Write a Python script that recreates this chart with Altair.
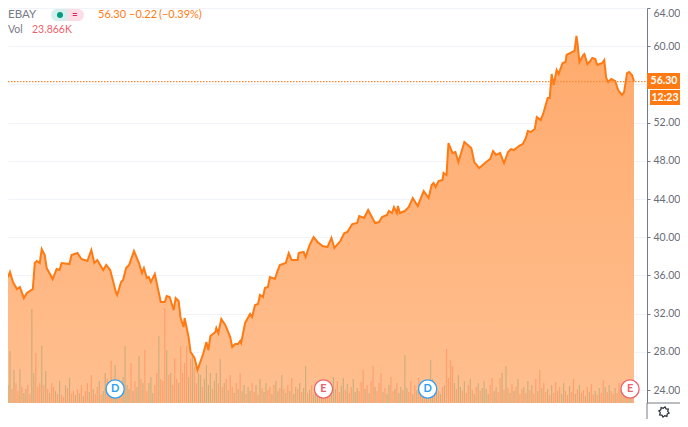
import math
import altair as alt
import pandas as pd

bars = [3,5,8,12,15,19,22,28,30,32,35,37,40,42,48,52,55,57,65,67,73,77,83,87,90,93,99,102,106,112,113,117,119,122,125,130,135,138,140,143,145,147,151,154,157,161,163,166,170,172,175,177,180,181,185,187,191,194,200,203,205,207,212,213,215,218,222,227,229,232,235,237,238,242,247,249,252,255,257,260,262,265,267,272,275,277,283,286,289,295,296,301,303,307,311,315,320,325,329,332,338,342,345,350,355,357,362,366,373,377,380,385,387,390,392,395,396,398,403,407,411,416,422,427,430,432,434,437,441,442,445,447,451,454,457,460,463,470,473,478,485,489,492,495,499,503,507,510,513,518,522,525,527,530,534,536,540,543,547,549,551,553,556,558,562,565,566,570,574,576,577,579,583,584,587,590,592,595,597,602,604,606,608,611,615,618,622,624,627,629,632,634]
prices = [35.83,36.36,35.31,34.57,34.78,33.63,34.16,34.57,37.30,37.51,37.30,38.76,38.13,36.77,35.62,36.67,36.56,37.30,37.19,38.13,38.34,37.72,37.51,38.66,37.30,37.61,36.56,37.09,36.56,34.16,33.95,35.31,35.52,36.77,37.09,38.55,37.30,36.25,36.77,35.73,35.83,35.31,36.15,34.68,33.21,33.21,33.84,33.74,32.38,33.63,33.32,31.54,30.60,31.54,29.55,27.98,27.35,26.09,27.87,29.03,28.19,29.65,30.07,30.49,29.97,31.43,30.81,29.55,28.50,28.82,28.82,29.13,28.92,31.02,31.96,31.64,32.90,33.00,33.95,33.74,34.68,34.78,35.83,35.62,36.56,37.09,37.30,38.34,37.61,37.61,38.34,38.45,37.93,39.18,40.02,39.50,39.08,38.97,39.92,38.87,39.60,40.44,40.54,41.38,41.49,42.22,42.01,42.85,41.49,41.59,42.12,42.32,42.74,42.53,43.16,42.53,43.27,42.53,42.74,43.16,44.10,43.27,44.84,44.10,45.46,45.67,45.26,45.88,45.99,46.72,46.51,49.86,48.82,48.92,47.87,48.92,49.97,49.34,47.87,47.24,47.87,48.19,49.02,48.61,48.82,47.77,48.92,49.23,49.13,49.55,49.76,50.39,51.12,51.02,51.33,52.59,52.27,53.11,54.57,54.57,57.09,55.93,57.50,57.09,58.24,58.34,59.08,59.29,59.50,61.07,60.34,58.34,59.08,59.18,58.13,58.45,58.76,58.66,58.03,58.24,58.55,56.67,56.25,56.56,56.35,55.41,54.89,55.20,57.19,57.30,56.98,56.30]

volumes = [
 18,52,14,33,20,12,34,16,10,14,18,9,94,30,50,16,20,57,18,32,
 14,10,20,16,12,9,22,8,6,18,15,25,9,12,8,14,10,18,7,12,
 20,11,28,14,9,16,22,8,12,30,24,18,42,20,38,12,16,10,26,57,
 18,14,40,12,22,16,47,24,20,53,12,20,26,10,18,30,67,24,22,95,
 53,28,30,18,45,24,20,57,30,40,57,26,44,50,36,20,30,28,16,24,
 38,18,30,14,22,30,20,44,16,20,24,13,28,16,10,20,14,30,12,18,
 9,16,12,20,11,18,8,24,15,11,20,13,16,9,18,22,12,15,28,14,
 10,18,12,25,9,16,14,20,11,15,37,10,13,18,9,16,20,11,12,8,
 12,20,16,9,26,14,22,11,17,25,13,19,10,16,24,11,15,12,21,33,
 14,18,10,22,37,16,12,20,30,11,15,9,18,26,12,14,20,10,16,13,
 48,15,11,22,9,18,13,25,16,10,12,20,11,43,24,14,10,12,9,16,
 18,54,25,43,37,20,14,28,16,12,22,10,18,24,13,9,16,20,12,15,
 22,14,9,18,25,12,16,11,25,30,13,37,15,10,19,12,16,24,9,14,
 16,10,22,13,18,9,24,12,33,15,20,11,14,8,18,10,21,12,16,9,
 20,12,8,17,11,24,9,14,18,10,13,7,16,11,19,9,12,8,15,10,
 23,16,11,18,12,9,15,10,20,13,7,12,9,11,8,10]
vol_dirs = (
 "ggrgrrgrggrrggrrrgrg" "rgrrgrgrrgrgrrgrgrgr" "rgrgrrgrggrrrgggrrgg" "ggrgrggrgrrgggrrgrrr"
 "grgrrrgrrrrgrgrrggrg" "gggrggrgrgrgrrgrgrgg" "rggrrgrgrggrrgrggrgr" "grgrggrgrggrgrgggrgr"
 "grrgggrrggrgrrgggrrr" "grgrrgrrrgrggrrgrggr" "ggrrgrgrrgrgrggrgrgr" "grrrrgrggrgrrgrgrgrg"
 "gggrrggrrgrgrgrgrgrr" "grgrgrrgrgrrgrgrrgrg" "grrgrrgrgrrgrgrrgrgr" "rgrgrrgrrgrgrggr")
vol_bars = list(range(3, 3 + 2 * len(volumes), 2))

tick_bars = [21, 116, 226, 330, 430, 540]
tick_names = ["Feb", "Mar", "Apr", "May", "Jun", "Jul"]
price_ticks = [24, 28, 32, 36, 40, 44, 48, 52, 56, 60, 64]
events = [(111, "D"), (321, "E"), (426, "D"), (630, "E")]

FONT = "Lato"
GREY = "#787b86"
ORANGE = "#ff7a12"
W, H = 639, 395
x_dom = [3, 647.1]
y_dom = [22.64, 64]

px = alt.Scale(domain=x_dom, nice=False, zero=False, padding=0)
py = alt.Scale(domain=y_dom, nice=False, zero=False)
base = pd.DataFrame({"bar": bars, "price": prices, "floor": [y_dom[0]] * len(bars)})
vol = pd.DataFrame({"bar": vol_bars, "volume": volumes, "dir": list(vol_dirs)})

x_axis = alt.Axis(values=tick_bars, title=None, grid=False, domain=False,
                  tickColor=GREY, tickSize=3, labelColor="#6a6d78", labelFont=FONT,
                  labelFontSize=12, labelPadding=5,
                  labelExpr="['Feb','Mar','Apr','May','Jun','Jul'][indexof([21,116,226,330,430,540], datum.value)]")
y_axis = alt.Axis(values=price_ticks, orient="right", title=None, grid=True,
                  gridColor="#f0f3fa", gridWidth=1, domainColor=GREY, tickColor=GREY, tickSize=3,
                  labelColor="#6a6d78", labelFont=FONT, labelFontSize=10.5, labelPadding=3, labelFlush=True,
                  labelExpr="datum.value == 56 ? '' : format(datum.value, '.2f')")

area = alt.Chart(base).mark_area(
    color=alt.Gradient(gradient="linear", x1=0, x2=0, y1=0, y2=1,
                       stops=[alt.GradientStop(color="#ffaa6c", offset=0),
                              alt.GradientStop(color="#ffbf90", offset=1)])
).encode(
    x=alt.X("bar:Q", scale=px, axis=x_axis),
    y=alt.Y("price:Q", scale=py, axis=y_axis),
    y2="floor:Q",
)
volume = alt.Chart(vol).mark_bar(size=1.2, opacity=0.85).encode(
    x=alt.X("bar:Q", scale=px, axis=None),
    y=alt.Y("volume:Q", scale=alt.Scale(domain=[0, H], nice=False), axis=None),
    color=alt.Color("dir:N", legend=None,
                    scale=alt.Scale(domain=["g", "r"], range=["#c4ab78", "#ff9a68"])),
)
line = alt.Chart(base).mark_line(color=ORANGE, strokeWidth=2).encode(
    x=alt.X("bar:Q", scale=px, axis=None),
    y=alt.Y("price:Q", scale=py, axis=None),
)
last = alt.Chart(pd.DataFrame({"p": [prices[-1]]})).mark_rule(
    stroke="#ff8a33", strokeDash=[1.5, 1.5], strokeWidth=1.2, opacity=1
).encode(y=alt.Y("p:Q", scale=py, axis=None), x=alt.value(0), x2=alt.value(W),
         color=alt.value("#ff8a33"))


def one():
    return alt.Chart(pd.DataFrame({"a": [0]}))


def rule(x1, y1, x2, y2, color, w=1):
    return one().mark_rule(color=color, strokeWidth=w).encode(
        x=alt.value(x1), y=alt.value(y1), x2=alt.value(x2), y2=alt.value(y2))


def rect(x1, y1, x2, y2, color, **kw):
    return one().mark_rect(color=color, **kw).encode(
        x=alt.value(x1), y=alt.value(y1), x2=alt.value(x2), y2=alt.value(y2))


def text(s, x, y, color, size=11, align="left", weight="normal"):
    return one().mark_text(text=s, color=color, fontSize=size, font=FONT, align=align,
                           baseline="middle", fontWeight=weight).encode(
        x=alt.value(x), y=alt.value(y))


overlay = [
    rule(W, H, 672, H, GREY),
    rule(W, H, W, 411, GREY),
    text("EBAY", 0, 7, GREY, 11.5),
    rect(43, 1, 59, 13, "#d5f0ec", cornerRadiusTopLeft=6, cornerRadiusBottomLeft=6),
    rect(59, 1, 76, 13, "#fcdde6", cornerRadiusTopRight=6, cornerRadiusBottomRight=6),
    one().mark_point(filled=True, color="#089981", size=36, opacity=1).encode(x=alt.value(52), y=alt.value(7)),
    text("≈", 67, 7, "#e0245e", 10, "center", "bold"),
    text("56.30", 90, 7, ORANGE),
    text("−0.22", 121, 7, ORANGE),
    text("(−0.39%)", 151, 7, ORANGE),
    text("Vol", 0, 22, GREY, 10.5),
    text("23.866K", 24, 22, "#ef5f6c", 10.5),
    rect(W, 65, 672, 81, "#ff7a12"),
    rect(642, 82, 672, 97, "#ff7a12"),
    text("56.30", 656, 73, "white", 10.5, "center", "bold"),
    text("12:23", 657, 90, "white", 10.5, "center", "bold"),
]
for bar_x, letter in events:
    stroke = "#2f9ff3" if letter == "D" else "#f0606a"
    page_x = (bar_x - x_dom[0]) / (x_dom[1] - x_dom[0]) * W
    overlay.append(one().mark_point(filled=True, fill="white", stroke=stroke, strokeWidth=1.3,
                                    size=330, opacity=1).encode(x=alt.value(page_x), y=alt.value(381)))
    overlay.append(text(letter, page_x, 381, stroke, 11, "center", "bold"))

teeth = []
for k in range(16):
    ang = k * math.pi / 8 + math.pi / 16
    r = 1.0 if k % 2 == 0 else 0.72
    teeth.append(f"{r * math.cos(ang):.3f},{r * math.sin(ang):.3f}")
gear_path = "M" + " L".join(teeth) + " Z"
overlay.append(one().mark_point(shape=gear_path, filled=False, stroke="#2a2e39", strokeWidth=1.2,
                                size=110, opacity=1).encode(x=alt.value(656), y=alt.value(404)))

chart = alt.layer(area, volume, line, last, *overlay).resolve_scale(y="independent").properties(
    width=W, height=H, background="white",
    padding={"left": 0, "top": 0, "right": 33, "bottom": 16},
    autosize=alt.AutoSizeParams(type="none"),
).configure_view(stroke=None)

chart.save("out.html", embed_options={"renderer": "svg", "actions": False})
